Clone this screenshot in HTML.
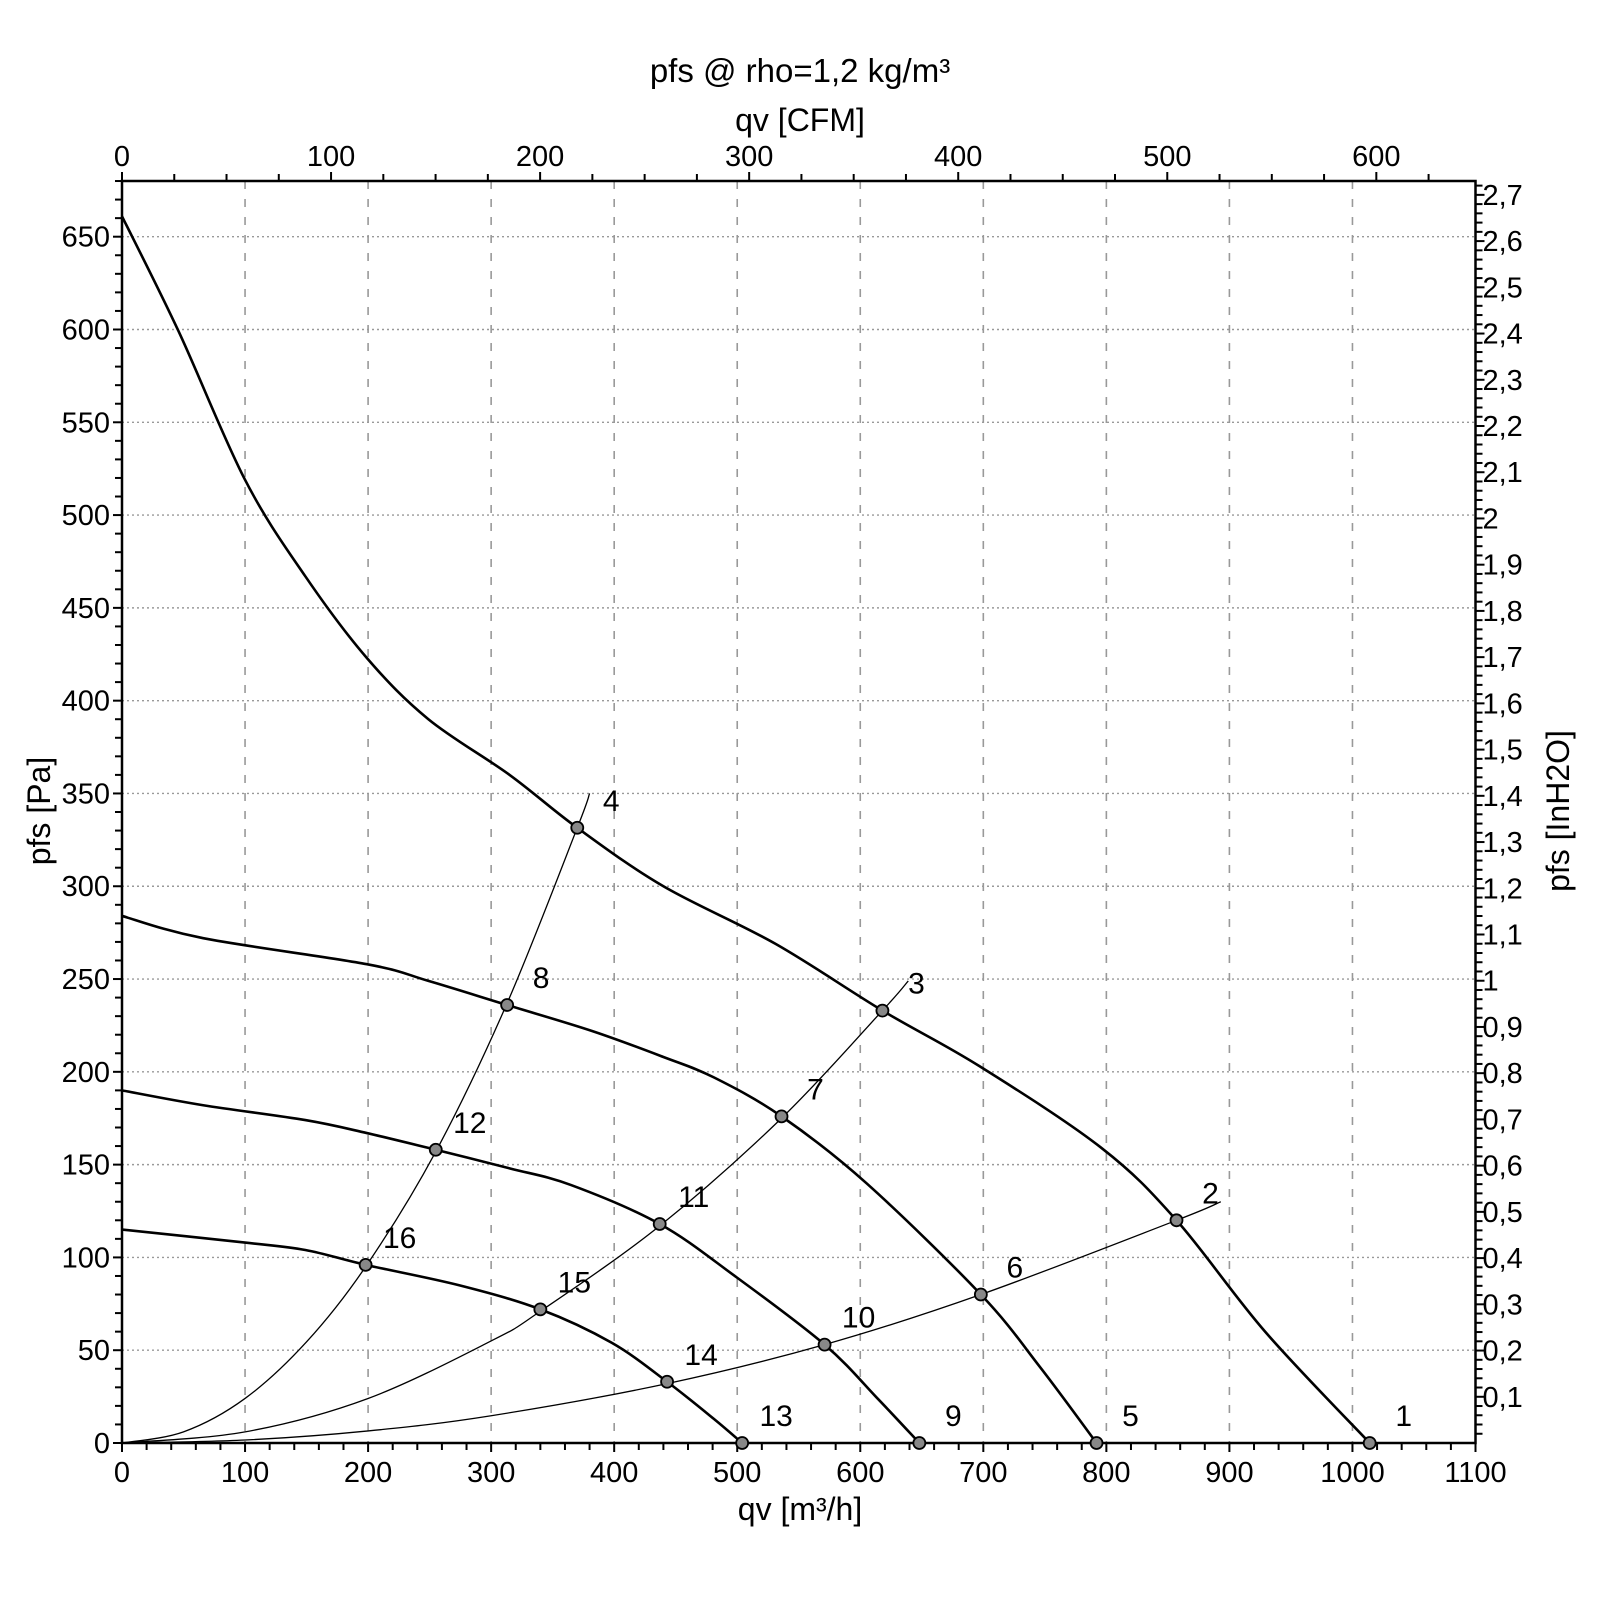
<!DOCTYPE html>
<html><head><meta charset="utf-8"><style>
html,body{margin:0;padding:0;background:#fff;}
svg{display:block;font-family:"Liberation Sans",sans-serif;}
</style></head><body>
<svg id="chart" width="1600" height="1600" viewBox="0 0 1600 1600" xmlns="http://www.w3.org/2000/svg">
<g id="grid"></g>
<g id="axes"></g>
<g id="series"></g>
<g id="markers"></g>
<text x="800" y="82" font-size="33" text-anchor="middle">pfs @ rho=1,2 kg/m³</text>
<text x="800" y="131" font-size="32" text-anchor="middle">qv [CFM]</text>
<text x="800" y="1520" font-size="32" text-anchor="middle">qv [m³/h]</text>
<text x="0" y="0" font-size="32" text-anchor="middle" transform="translate(50,811) rotate(-90)">pfs [Pa]</text>
<text x="0" y="0" font-size="32" text-anchor="middle" transform="translate(1569,811) rotate(-90)">pfs [InH2O]</text>
</svg>
<script>
const fanCurve1X=[0,46,100,149,199,249,315,370,440,531,618,697,796,857,929,1014];
const fanCurve1Y=[661,599,519,467,423,390,360,331.5,300,269,233,203,159,120,60,0];
const fanCurve2X=[0,66,199,249,313,382,440,481,536,605,698,746,792];
const fanCurve2Y=[284,272,258,249,236,222,208,197,176,140,80,41,0];
const fanCurve3X=[0,66,149,199,255,315,365,437,498,571,614,648];
const fanCurve3Y=[190,182,174,167,158,148,139,118,90,53,24,0];
const fanCurve4X=[0,100,149,198,274,340,398,443,481,504];
const fanCurve4Y=[115,108,104,96,85,72,54,33,13,0];
const sysLine4X=[0,50,100,150,198,255,313,370,380];
const sysLine4Y=[0,6,24,54.5,95,157,237,331.5,350];
const sysLine3X=[0,100,200,300,340,437,536,618,639];
const sysLine3Y=[0,6,24,55,71,117,175,233,249];
const sysLine2X=[0,100,200,300,443,571,698,857,893];
const sysLine2Y=[0,1.6,6.5,14.7,32,53,80,120,130];
const markerIds=["1","2","3","4","5","6","7","8","9","10","11","12","13","14","15","16"];
const markerX=[1014,857,618,370,792,698,536,313,648,571,437,255,504,443,340,198];
const markerY=[0,120,233,331.5,0,80,176,236,0,53,118,158,0,33,72,96];
const xTickLabels=[0,100,200,300,400,500,600,700,800,900,1000,1100];
const yTickLabels=[0,50,100,150,200,250,300,350,400,450,500,550,600,650];
const cfmTickLabels=[0,100,200,300,400,500,600];
const inchTickLabels=["0,1","0,2","0,3","0,4","0,5","0,6","0,7","0,8","0,9","1","1,1","1,2","1,3","1,4","1,5","1,6","1,7","1,8","1,9","2","2,1","2,2","2,3","2,4","2,5","2,6","2,7"];

const L=122,R=1475.5,T=181,B=1443;
const X=v=>L+v*(R-L)/1100;
const Y=v=>B-v*(B-236.7)/650;
const NS="http://www.w3.org/2000/svg";
function mk(tag,parent,attrs){const e=document.createElementNS(NS,tag);for(const k in attrs)e.setAttribute(k,attrs[k]);document.getElementById(parent).appendChild(e);return e;}

xTickLabels.forEach(v=>{ if(v===0||v===1100)return;
  const e=mk('line','grid',{x1:X(v),x2:X(v),y1:T,y2:B,stroke:'#999','stroke-width':1.6,'stroke-dasharray':'8,10'});
  
  
});
yTickLabels.forEach(v=>{ if(v===0)return;
  const e=mk('line','grid',{x1:L,x2:R,y1:Y(v),y2:Y(v),stroke:'#999','stroke-width':1.4,'stroke-dasharray':'2,3'});
  
  
});
const fr=mk('rect','axes',{x:L,y:T,width:R-L,height:B-T,fill:'none',stroke:'#000','stroke-width':2.5});


for(let v=0;v<=1100;v+=20){const e=mk('line','axes',{x1:X(v),x2:X(v),y1:B,y2:B+(v%100===0?9:7),stroke:'#000','stroke-width':2});
  
  }
xTickLabels.forEach(v=>{const t=mk('text','axes',{x:X(v),y:1482,'font-size':29,'text-anchor':'middle'});t.textContent=v;
  
  });
for(let v=0;v<=680;v+=10){const e=mk('line','axes',{x1:L-(v%50===0?9:7),x2:L,y1:Y(v),y2:Y(v),stroke:'#000','stroke-width':2});
  
  }
yTickLabels.forEach(v=>{const t=mk('text','axes',{x:L-12,y:Y(v)+10,'font-size':29,'text-anchor':'end'});t.textContent=v;
  
  });
const cfm=1.699;
for(let v=0;v*cfm<=1100;v+=25){const e=mk('line','axes',{x1:X(v*cfm),x2:X(v*cfm),y1:T,y2:T-(v%100===0?9:7),stroke:'#000','stroke-width':2});
  
  }
cfmTickLabels.forEach(v=>{const t=mk('text','axes',{x:X(v*cfm),y:166,'font-size':29,'text-anchor':'middle'});t.textContent=v;
  
  });
const inch=249.09;
for(let i=1;i*0.02*inch<=680;i++){const major=i%5===0;const e=mk('line','axes',{x1:R,x2:R+(major?9:7),y1:Y(i*0.02*inch),y2:Y(i*0.02*inch),stroke:'#000','stroke-width':2});
  
  }
inchTickLabels.forEach(s=>{const v=parseFloat(s.replace(',','.'));const t=mk('text','axes',{x:R+7,y:Y(v*inch)+10,'font-size':29,'text-anchor':'start'});t.textContent=s;
  
  });
function pathOf(xs,ys){const p=xs.map((x,i)=>[X(x),Y(ys[i])]);let d='M'+p[0][0]+','+p[0][1];
  for(let i=0;i<p.length-1;i++){const p0=p[i-1]||p[i],p1=p[i],p2=p[i+1],p3=p[i+2]||p2;
    const c1=[p1[0]+(p2[0]-p0[0])/6,p1[1]+(p2[1]-p0[1])/6],c2=[p2[0]-(p3[0]-p1[0])/6,p2[1]-(p3[1]-p1[1])/6];
    d+=' C'+c1[0]+','+c1[1]+' '+c2[0]+','+c2[1]+' '+p2[0]+','+p2[1];}
  return d;}
[[sysLine4X,sysLine4Y,'system-line-4'],[sysLine3X,sysLine3Y,'system-line-3'],[sysLine2X,sysLine2Y,'system-line-2']].forEach(s=>{
  const e=mk('path','series',{d:pathOf(s[0],s[1]),fill:'none',stroke:'#000','stroke-width':1.3});
  
  });
[[fanCurve1X,fanCurve1Y,'fan-curve-1'],[fanCurve2X,fanCurve2Y,'fan-curve-2'],[fanCurve3X,fanCurve3Y,'fan-curve-3'],[fanCurve4X,fanCurve4Y,'fan-curve-4']].forEach(s=>{
  const e=mk('path','series',{d:pathOf(s[0],s[1]),fill:'none',stroke:'#000','stroke-width':2.6});
  
  });
markerIds.forEach((id,i)=>{
  const c=mk('circle','markers',{cx:X(markerX[i]),cy:Y(markerY[i]),r:6,fill:'#888',stroke:'#000','stroke-width':1.8});
  
  
  const t=mk('text','markers',{x:X(markerX[i])+34,y:Y(markerY[i])-17,'font-size':30,'text-anchor':'middle'});t.textContent=id;
  
  });
</script>
</body></html>
